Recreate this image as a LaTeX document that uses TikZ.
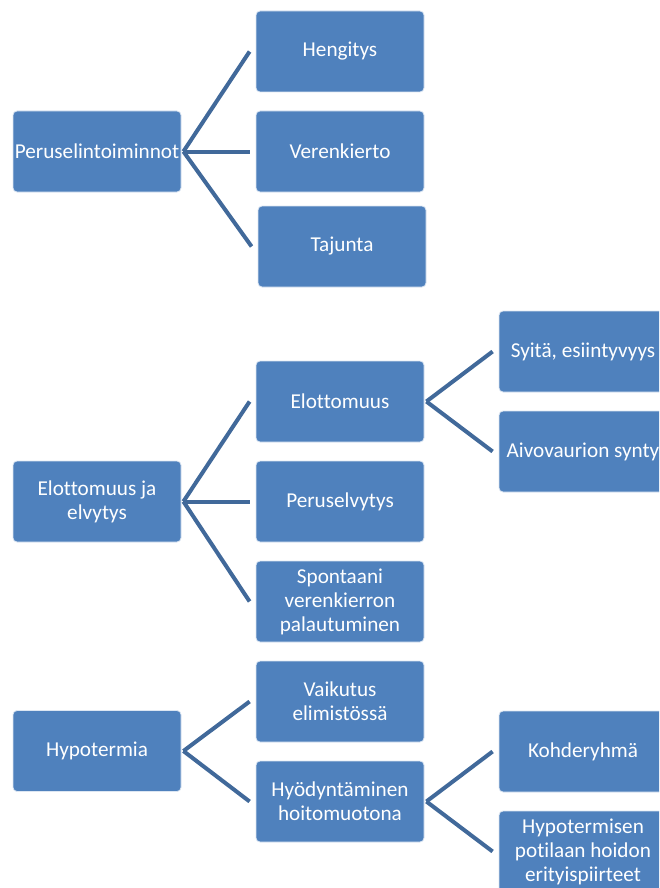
\documentclass[tikz,border=0pt]{standalone}
\usepackage{fontspec}
\setmainfont{Carlito}[Ligatures=CommonOff]
\definecolor{boxblue}{HTML}{4F81BD}
\definecolor{lineblue}{HTML}{41699A}
\begin{document}
\begin{tikzpicture}[x=1pt,y=-1pt,
  box/.style={draw=white!80!boxblue,line width=0.8pt,fill=boxblue,rounded corners=4pt,
    minimum width=168pt,minimum height=81pt,inner sep=0pt,text=white,align=center,
    font=\fontsize{21.2}{24}\selectfont},
  link/.style={draw=lineblue,line width=4pt}]
\useasboundingbox (0,0) rectangle (659,888);
\clip (0,0) rectangle (659,888);
% column 1
\node[box] (pe) at (97,151.5) {Peruselintoiminnot};
\node[box] (el) at (97,501.5) {Elottomuus ja\\elvytys};
\node[box] (hy) at (97,751) {Hypotermia};
% column 2
\node[box] (he) at (340,51.5) {Hengitys};
\node[box] (ve) at (340,151.5) {Verenkierto};
\node[box] (ta) at (342,246.5) {Tajunta};
\node[box] (eo) at (340,401.5) {Elottomuus};
\node[box] (pv) at (340,501.5) {Peruselvytys};
\node[box] (sp) at (340,601.5) {Spontaani\\verenkierron\\palautuminen};
\node[box] (va) at (340,701.5) {Vaikutus\\elimistössä};
\node[box] (hh) at (340,801.5) {Hyödyntäminen\\hoitomuotona};
% column 3
\node[box] (sy) at (583,351.5) {Syitä, esiintyvyys};
\node[box] (ai) at (583,451.5) {Aivovaurion synty};
\node[box] (ko) at (583,751.5) {Kohderyhmä};
\node[box] (hp) at (583,851.5) {Hypotermisen\\potilaan hoidon\\erityispiirteet};
% connectors
\foreach \a/\b in {pe/he,pe/ve,pe/ta,el/eo,el/pv,el/sp,hy/va,hy/hh,eo/sy,eo/ai,hh/ko,hh/hp}{
  \draw[link] ([xshift=2pt]\a.east) -- ([xshift=-6pt]\b.west |- \b.center);
}
\end{tikzpicture}
\end{document}
